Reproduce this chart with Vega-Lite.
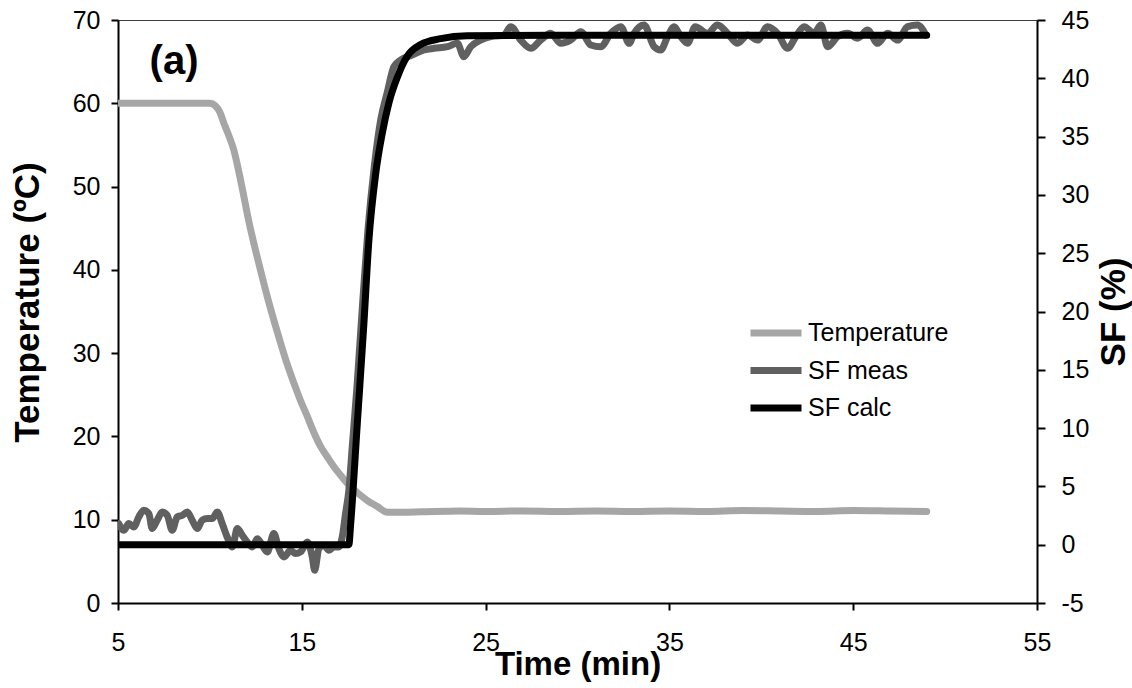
{
  "$schema": "https://vega.github.io/schema/vega-lite/v6.json",
  "width": 919,
  "height": 583,
  "autosize": {"type": "none"},
  "padding": {"left": 118, "top": 20, "right": 95, "bottom": 85},
  "background": "white",
  "config": {
    "font": "Liberation Sans",
    "view": {"stroke": "#404040", "strokeWidth": 1},
    "axis": {
      "grid": false,
      "domainColor": "black",
      "domainWidth": 2,
      "tickColor": "black",
      "tickWidth": 2,
      "tickSize": 7,
      "labelFont": "Liberation Sans",
      "labelFontSize": 25,
      "labelColor": "black",
      "labelFlush": false,
      "labelOverlap": false,
      "titleFont": "Liberation Sans",
      "titleFontSize": 35,
      "titleFontWeight": "bold",
      "titleColor": "black"
    },
    "legend": {
      "orient": "none", "legendX": 636, "legendY": 291, "title": null,
      "symbolType": "M-1.4,0H1.4", "symbolSize": 1327, "symbolStrokeWidth": 7,
      "symbolFillColor": "transparent",
      "labelFontSize": 25, "labelColor": "black", "labelFont": "Liberation Sans", "labelOffset": 10,
      "rowPadding": 1.5
    }
  },
  "datasets": {
    "temp": [
      {"series": "Temperature", "t": 5.0, "v": 60.0},
      {"series": "Temperature", "t": 7.0, "v": 60.0},
      {"series": "Temperature", "t": 9.0, "v": 60.0},
      {"series": "Temperature", "t": 10.0, "v": 60.0},
      {"series": "Temperature", "t": 10.3, "v": 59.7},
      {"series": "Temperature", "t": 10.55, "v": 58.9},
      {"series": "Temperature", "t": 10.76, "v": 57.6},
      {"series": "Temperature", "t": 11.05, "v": 56.0},
      {"series": "Temperature", "t": 11.3, "v": 54.4},
      {"series": "Temperature", "t": 11.6, "v": 51.5},
      {"series": "Temperature", "t": 11.85, "v": 48.8},
      {"series": "Temperature", "t": 12.1, "v": 46.0},
      {"series": "Temperature", "t": 12.39, "v": 43.2},
      {"series": "Temperature", "t": 12.75, "v": 40.0},
      {"series": "Temperature", "t": 13.12, "v": 36.8},
      {"series": "Temperature", "t": 13.5, "v": 33.8},
      {"series": "Temperature", "t": 13.85, "v": 31.2},
      {"series": "Temperature", "t": 14.2, "v": 28.7},
      {"series": "Temperature", "t": 14.57, "v": 26.4},
      {"series": "Temperature", "t": 14.95, "v": 24.2},
      {"series": "Temperature", "t": 15.3, "v": 22.4},
      {"series": "Temperature", "t": 15.65, "v": 20.5},
      {"series": "Temperature", "t": 16.02, "v": 18.8},
      {"series": "Temperature", "t": 16.4, "v": 17.5},
      {"series": "Temperature", "t": 16.75, "v": 16.35},
      {"series": "Temperature", "t": 17.2, "v": 15.1},
      {"series": "Temperature", "t": 17.66, "v": 13.95},
      {"series": "Temperature", "t": 18.1, "v": 13.1},
      {"series": "Temperature", "t": 18.57, "v": 12.3},
      {"series": "Temperature", "t": 19.1, "v": 11.6},
      {"series": "Temperature", "t": 19.65, "v": 10.9},
      {"series": "Temperature", "t": 20.5, "v": 10.9},
      {"series": "Temperature", "t": 21.5, "v": 10.95},
      {"series": "Temperature", "t": 23.6, "v": 11.05},
      {"series": "Temperature", "t": 25.0, "v": 11.0},
      {"series": "Temperature", "t": 27.0, "v": 11.05},
      {"series": "Temperature", "t": 29.0, "v": 11.0},
      {"series": "Temperature", "t": 31.0, "v": 11.05},
      {"series": "Temperature", "t": 33.0, "v": 11.0},
      {"series": "Temperature", "t": 35.0, "v": 11.05},
      {"series": "Temperature", "t": 37.0, "v": 11.0},
      {"series": "Temperature", "t": 39.0, "v": 11.1},
      {"series": "Temperature", "t": 41.0, "v": 11.05},
      {"series": "Temperature", "t": 43.0, "v": 11.0},
      {"series": "Temperature", "t": 45.0, "v": 11.1},
      {"series": "Temperature", "t": 47.0, "v": 11.05},
      {"series": "Temperature", "t": 49.0, "v": 11.0}
    ],
    "label": [
      {"label": "(a)", "t": 8.05, "v": 65.0}
    ],
    "meas": [
      {"series": "SF meas", "t": 5.04, "v": 1.81},
      {"series": "SF meas", "t": 5.32, "v": 1.24},
      {"series": "SF meas", "t": 5.59, "v": 1.81},
      {"series": "SF meas", "t": 5.86, "v": 1.52},
      {"series": "SF meas", "t": 6.13, "v": 2.38},
      {"series": "SF meas", "t": 6.40, "v": 2.95},
      {"series": "SF meas", "t": 6.68, "v": 2.67},
      {"series": "SF meas", "t": 6.86, "v": 1.38},
      {"series": "SF meas", "t": 7.13, "v": 2.10},
      {"series": "SF meas", "t": 7.41, "v": 2.81},
      {"series": "SF meas", "t": 7.68, "v": 2.52},
      {"series": "SF meas", "t": 7.95, "v": 1.24},
      {"series": "SF meas", "t": 8.22, "v": 2.38},
      {"series": "SF meas", "t": 8.49, "v": 2.52},
      {"series": "SF meas", "t": 8.77, "v": 2.81},
      {"series": "SF meas", "t": 9.04, "v": 2.10},
      {"series": "SF meas", "t": 9.31, "v": 1.38},
      {"series": "SF meas", "t": 9.58, "v": 2.10},
      {"series": "SF meas", "t": 9.86, "v": 2.24},
      {"series": "SF meas", "t": 10.13, "v": 2.24},
      {"series": "SF meas", "t": 10.40, "v": 2.81},
      {"series": "SF meas", "t": 10.67, "v": 1.81},
      {"series": "SF meas", "t": 10.94, "v": 0.66},
      {"series": "SF meas", "t": 11.22, "v": -0.19},
      {"series": "SF meas", "t": 11.49, "v": 1.38},
      {"series": "SF meas", "t": 11.76, "v": 0.81},
      {"series": "SF meas", "t": 12.03, "v": 0.23},
      {"series": "SF meas", "t": 12.31, "v": -0.19},
      {"series": "SF meas", "t": 12.58, "v": 0.52},
      {"series": "SF meas", "t": 12.85, "v": -0.05},
      {"series": "SF meas", "t": 13.12, "v": -0.62},
      {"series": "SF meas", "t": 13.48, "v": 0.95},
      {"series": "SF meas", "t": 13.75, "v": -0.33},
      {"series": "SF meas", "t": 14.03, "v": -1.05},
      {"series": "SF meas", "t": 14.39, "v": -0.48},
      {"series": "SF meas", "t": 14.66, "v": -0.76},
      {"series": "SF meas", "t": 14.93, "v": -0.62},
      {"series": "SF meas", "t": 15.30, "v": 0.23},
      {"series": "SF meas", "t": 15.57, "v": -1.05},
      {"series": "SF meas", "t": 15.70, "v": -2.19},
      {"series": "SF meas", "t": 15.93, "v": -0.33},
      {"series": "SF meas", "t": 16.20, "v": -0.05},
      {"series": "SF meas", "t": 16.48, "v": -0.48},
      {"series": "SF meas", "t": 16.75, "v": -0.19},
      {"series": "SF meas", "t": 17.02, "v": -0.19},
      {"series": "SF meas", "t": 17.20, "v": 0.66},
      {"series": "SF meas", "t": 17.38, "v": 2.67},
      {"series": "SF meas", "t": 17.56, "v": 4.67},
      {"series": "SF meas", "t": 17.75, "v": 8.5},
      {"series": "SF meas", "t": 18.0, "v": 13.5},
      {"series": "SF meas", "t": 18.3, "v": 20.5},
      {"series": "SF meas", "t": 18.6, "v": 27.0},
      {"series": "SF meas", "t": 18.95, "v": 32.5},
      {"series": "SF meas", "t": 19.3, "v": 36.5},
      {"series": "SF meas", "t": 19.65, "v": 38.8},
      {"series": "SF meas", "t": 20.01, "v": 41.0},
      {"series": "SF meas", "t": 20.38, "v": 41.57},
      {"series": "SF meas", "t": 21.0, "v": 42.0},
      {"series": "SF meas", "t": 21.65, "v": 42.43},
      {"series": "SF meas", "t": 22.19, "v": 42.57},
      {"series": "SF meas", "t": 22.92, "v": 42.71},
      {"series": "SF meas", "t": 23.46, "v": 43.0},
      {"series": "SF meas", "t": 23.82, "v": 41.85},
      {"series": "SF meas", "t": 24.19, "v": 42.71},
      {"series": "SF meas", "t": 24.73, "v": 43.28},
      {"series": "SF meas", "t": 25.28, "v": 43.57},
      {"series": "SF meas", "t": 26.0, "v": 43.71},
      {"series": "SF meas", "t": 26.37, "v": 44.43},
      {"series": "SF meas", "t": 26.91, "v": 43.28},
      {"series": "SF meas", "t": 27.46, "v": 42.57},
      {"series": "SF meas", "t": 28.0, "v": 43.28},
      {"series": "SF meas", "t": 28.54, "v": 43.86},
      {"series": "SF meas", "t": 29.09, "v": 43.0},
      {"series": "SF meas", "t": 29.63, "v": 43.28},
      {"series": "SF meas", "t": 30.18, "v": 44.0},
      {"series": "SF meas", "t": 30.72, "v": 42.86},
      {"series": "SF meas", "t": 31.27, "v": 42.71},
      {"series": "SF meas", "t": 31.81, "v": 43.86},
      {"series": "SF meas", "t": 32.36, "v": 44.43},
      {"series": "SF meas", "t": 32.81, "v": 43.0},
      {"series": "SF meas", "t": 33.08, "v": 43.86},
      {"series": "SF meas", "t": 33.62, "v": 44.57},
      {"series": "SF meas", "t": 34.17, "v": 42.71},
      {"series": "SF meas", "t": 34.53, "v": 42.43},
      {"series": "SF meas", "t": 34.9, "v": 43.57},
      {"series": "SF meas", "t": 35.26, "v": 44.43},
      {"series": "SF meas", "t": 35.62, "v": 43.57},
      {"series": "SF meas", "t": 35.99, "v": 43.0},
      {"series": "SF meas", "t": 36.4, "v": 44.43},
      {"series": "SF meas", "t": 37.07, "v": 43.86},
      {"series": "SF meas", "t": 37.62, "v": 44.57},
      {"series": "SF meas", "t": 38.16, "v": 43.86},
      {"series": "SF meas", "t": 38.71, "v": 43.0},
      {"series": "SF meas", "t": 39.25, "v": 43.71},
      {"series": "SF meas", "t": 39.8, "v": 43.28},
      {"series": "SF meas", "t": 40.34, "v": 44.43},
      {"series": "SF meas", "t": 40.88, "v": 43.86},
      {"series": "SF meas", "t": 41.43, "v": 42.57},
      {"series": "SF meas", "t": 41.88, "v": 43.57},
      {"series": "SF meas", "t": 42.33, "v": 44.43},
      {"series": "SF meas", "t": 42.88, "v": 43.86},
      {"series": "SF meas", "t": 43.24, "v": 44.57},
      {"series": "SF meas", "t": 43.61, "v": 42.71},
      {"series": "SF meas", "t": 44.15, "v": 43.57},
      {"series": "SF meas", "t": 44.7, "v": 43.86},
      {"series": "SF meas", "t": 45.24, "v": 43.43},
      {"series": "SF meas", "t": 45.78, "v": 44.14},
      {"series": "SF meas", "t": 46.33, "v": 43.0},
      {"series": "SF meas", "t": 46.87, "v": 43.86},
      {"series": "SF meas", "t": 47.42, "v": 43.28},
      {"series": "SF meas", "t": 47.96, "v": 44.43},
      {"series": "SF meas", "t": 48.5, "v": 44.57},
      {"series": "SF meas", "t": 48.95, "v": 43.71}
    ],
    "calc": [
      {"series": "SF calc", "t": 5.0, "v": 0.0},
      {"series": "SF calc", "t": 17.56, "v": 0.0},
      {"series": "SF calc", "t": 17.66, "v": 1.8},
      {"series": "SF calc", "t": 18.02, "v": 10.4},
      {"series": "SF calc", "t": 18.38, "v": 19.0},
      {"series": "SF calc", "t": 18.65, "v": 26.1},
      {"series": "SF calc", "t": 19.02, "v": 31.8},
      {"series": "SF calc", "t": 19.38, "v": 35.3},
      {"series": "SF calc", "t": 19.74, "v": 37.9},
      {"series": "SF calc", "t": 20.2, "v": 40.1},
      {"series": "SF calc", "t": 20.74, "v": 41.9},
      {"series": "SF calc", "t": 21.47, "v": 42.9},
      {"series": "SF calc", "t": 22.56, "v": 43.4},
      {"series": "SF calc", "t": 24.0, "v": 43.65},
      {"series": "SF calc", "t": 28.5, "v": 43.7},
      {"series": "SF calc", "t": 49.0, "v": 43.7}
    ]
  },
  "encoding": {
    "x": {
      "field": "t", "type": "quantitative",
      "scale": {"domain": [5, 55], "nice": false, "zero": false},
      "axis": {"orient": "bottom", "values": [5, 15, 25, 35, 45, 55], "labelPadding": 20, "title": "Time (min)", "titleFontSize": 33, "titleY": 45, "titleBaseline": "top"}
    }
  },
  "layer": [
    {
      "encoding": {
        "y": {
          "field": "v", "type": "quantitative",
          "scale": {"domain": [0, 70], "nice": false, "zero": false},
          "axis": {"orient": "left", "values": [0, 10, 20, 30, 40, 50, 60, 70], "labelPadding": 11, "title": "Temperature (ºC)", "titlePadding": 27, "titleY": 282}
        }
      },
      "layer": [
        {
          "data": {"name": "temp"},
          "mark": {"type": "line", "strokeWidth": 7, "strokeCap": "round", "strokeJoin": "round", "interpolate": "monotone", "clip": true},
          "encoding": {
            "color": {
              "field": "series", "type": "nominal",
              "scale": {"domain": ["Temperature", "SF meas", "SF calc"], "range": ["#a6a6a6", "#606060", "#000000"]}
            }
          }
        },
        {
          "data": {"name": "label"},
          "mark": {"type": "text", "font": "Liberation Sans", "fontSize": 40, "fontWeight": "bold", "color": "black", "align": "center", "baseline": "middle"},
          "encoding": {
            "text": {"field": "label", "type": "nominal"}
          }
        }
      ]
    },
    {
      "encoding": {
        "y": {
          "field": "v", "type": "quantitative",
          "scale": {"domain": [-5, 45], "nice": false, "zero": false},
          "axis": {"orient": "right", "values": [-5, 0, 5, 10, 15, 20, 25, 30, 35, 40, 45], "tickSize": 8, "labelPadding": 16, "labelExpr": "datum.value < 0 ? '-' + abs(datum.value) : '' + datum.value", "title": "SF (%)", "titleAngle": 270, "titlePadding": 43}
        },
        "color": {
          "field": "series", "type": "nominal",
          "scale": {"domain": ["Temperature", "SF meas", "SF calc"], "range": ["#a6a6a6", "#606060", "#000000"]}
        }
      },
      "layer": [
        {
          "data": {"name": "meas"},
          "mark": {"type": "line", "strokeWidth": 7, "strokeCap": "round", "strokeJoin": "round", "interpolate": "monotone", "clip": true}
        },
        {
          "data": {"name": "calc"},
          "mark": {"type": "line", "strokeWidth": 7, "strokeCap": "round", "strokeJoin": "round", "interpolate": "monotone", "clip": true}
        }
      ]
    }
  ],
  "resolve": {"scale": {"y": "independent"}}
}
